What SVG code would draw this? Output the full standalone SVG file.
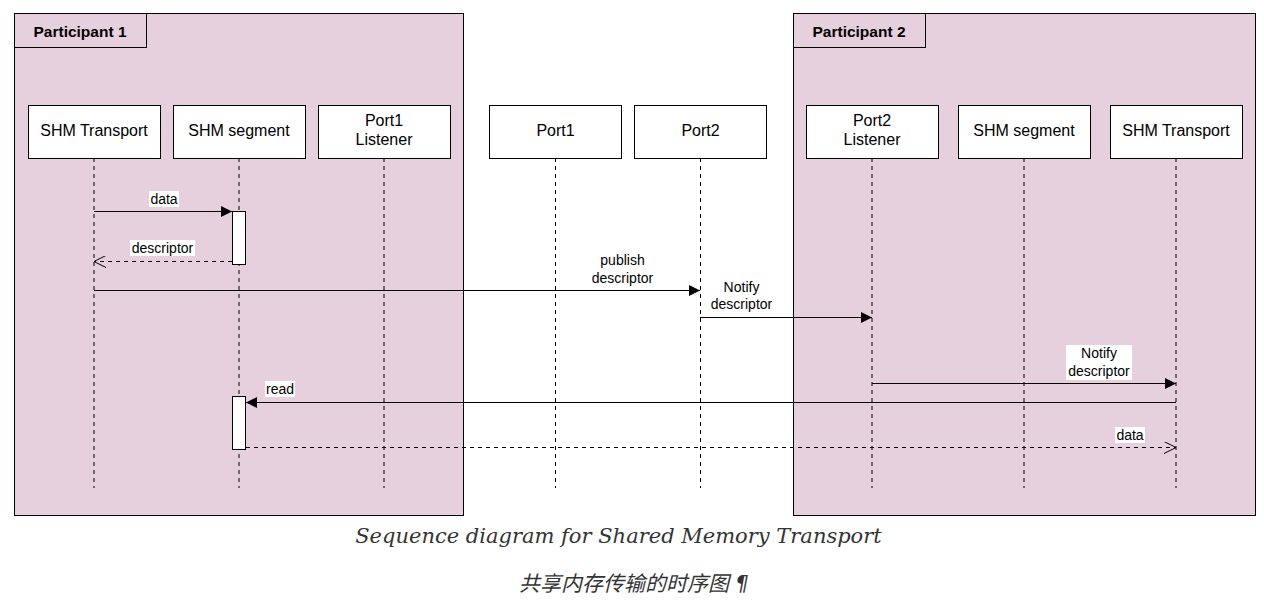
<svg xmlns="http://www.w3.org/2000/svg" width="1264" height="602" viewBox="0 0 1264 602">
<defs>
<style>
.frame{fill:#e6d0de;stroke:#000;stroke-width:1}
.tab{fill:#e6d0de;stroke:#000;stroke-width:1}
.box{fill:#fff;stroke:#000;stroke-width:1}
.t16{font-family:"Liberation Sans",Arial,sans-serif;font-size:16px;fill:#000;text-anchor:middle}
.tb{font-family:"Liberation Sans",Arial,sans-serif;font-size:15.5px;font-weight:bold;fill:#000;text-anchor:middle}
.t14{font-family:"Liberation Sans",Arial,sans-serif;font-size:14px;fill:#000;text-anchor:middle}
.life{stroke:#000;stroke-width:1;stroke-dasharray:4 4;fill:none}
.msg{stroke:#000;stroke-width:1;fill:none}
.ret{stroke:#000;stroke-width:1;stroke-dasharray:4 4;fill:none}
.act{fill:#fff;stroke:#000;stroke-width:1}
.lbg{fill:#fff}
.cap{font-family:"DejaVu Serif",serif;font-style:italic;font-size:21px;fill:#333;text-anchor:middle}
.cap2{font-family:"DejaVu Sans","Noto Sans CJK SC",sans-serif;font-style:italic;font-size:21px;fill:#333;text-anchor:middle}
</style>
<marker id="fill" viewBox="0 0 11 11" refX="11" refY="5.5" markerWidth="11" markerHeight="11" markerUnits="userSpaceOnUse" orient="auto">
<path d="M0,0 L11,5.5 L0,11 Z" fill="#000"/>
</marker>
<marker id="open" viewBox="0 0 12 12" refX="12" refY="6" markerWidth="12" markerHeight="12" markerUnits="userSpaceOnUse" orient="auto">
<path d="M0,0 L12,6 L0,12" fill="none" stroke="#000" stroke-width="1"/>
</marker>
</defs>
<rect width="1264" height="602" fill="#fff"/>

<g id="participant1">
<rect class="frame" x="14.5" y="13.5" width="449" height="502"/>
<rect class="tab" x="14.5" y="13.5" width="132" height="34"/>
<text class="tb" x="80" y="37">Participant 1</text>
</g>
<g id="participant2">
<rect class="frame" x="793.5" y="13.5" width="462" height="502"/>
<rect class="tab" x="793.5" y="13.5" width="132" height="34"/>
<text class="tb" x="859" y="37">Participant 2</text>
</g>

<g id="lifelines">
<line class="life" x1="94" y1="158" x2="94" y2="488"/>
<line class="life" x1="239" y1="158" x2="239" y2="488"/>
<line class="life" x1="384" y1="158" x2="384" y2="488"/>
<line class="life" x1="555.5" y1="158" x2="555.5" y2="488"/>
<line class="life" x1="700.5" y1="158" x2="700.5" y2="488"/>
<line class="life" x1="872" y1="158" x2="872" y2="488"/>
<line class="life" x1="1024" y1="158" x2="1024" y2="488"/>
<line class="life" x1="1176" y1="158" x2="1176" y2="488"/>
</g>

<g id="shm-transport-1"><rect class="box" x="28.5" y="105.5" width="132" height="53"/><text class="t16" x="94" y="136">SHM Transport</text></g>
<g id="shm-segment-1"><rect class="box" x="173.5" y="105.5" width="132" height="53"/><text class="t16" x="239" y="136">SHM segment</text></g>
<g id="port1-listener"><rect class="box" x="318.5" y="105.5" width="132" height="53"/><text class="t16" x="384" y="126">Port1</text><text class="t16" x="384" y="145">Listener</text></g>
<g id="port1"><rect class="box" x="489.5" y="105.5" width="132" height="53"/><text class="t16" x="555.5" y="136">Port1</text></g>
<g id="port2"><rect class="box" x="634.5" y="105.5" width="132" height="53"/><text class="t16" x="700.5" y="136">Port2</text></g>
<g id="port2-listener"><rect class="box" x="806.5" y="105.5" width="132" height="53"/><text class="t16" x="872" y="126">Port2</text><text class="t16" x="872" y="145">Listener</text></g>
<g id="shm-segment-2"><rect class="box" x="958.5" y="105.5" width="132" height="53"/><text class="t16" x="1024" y="136">SHM segment</text></g>
<g id="shm-transport-2"><rect class="box" x="1110.5" y="105.5" width="132" height="53"/><text class="t16" x="1176" y="136">SHM Transport</text></g>

<g id="activations">
<rect class="act" x="232.5" y="211.5" width="13" height="53"/>
<rect class="act" x="232.5" y="396.5" width="13" height="53"/>
</g>

<g id="connectors">
<line class="msg" x1="94" y1="211.5" x2="232" y2="211.5" marker-end="url(#fill)"/>
<rect class="lbg" x="149" y="191" width="30" height="16"/>
<text class="t14" x="164" y="204">data</text>

<line class="ret" x1="232" y1="261.5" x2="94" y2="261.5" marker-end="url(#open)"/>
<rect class="lbg" x="130" y="240" width="65" height="16"/>
<text class="t14" x="162.5" y="253">descriptor</text>

<line class="msg" x1="94" y1="290.5" x2="700" y2="290.5" marker-end="url(#fill)"/>
<text class="t14" x="622.5" y="265">publish</text>
<text class="t14" x="622.5" y="283">descriptor</text>

<line class="msg" x1="700" y1="317.5" x2="872" y2="317.5" marker-end="url(#fill)"/>
<text class="t14" x="741.5" y="292">Notify</text>
<text class="t14" x="741.5" y="309">descriptor</text>

<line class="msg" x1="872" y1="383.5" x2="1176" y2="383.5" marker-end="url(#fill)"/>
<rect class="lbg" x="1066" y="345" width="66" height="35"/>
<text class="t14" x="1099" y="358">Notify</text>
<text class="t14" x="1099" y="376">descriptor</text>

<line class="msg" x1="1176" y1="402.5" x2="246" y2="402.5" marker-end="url(#fill)"/>
<rect class="lbg" x="265" y="381" width="30" height="16"/>
<text class="t14" x="280" y="394">read</text>

<line class="ret" x1="246" y1="447.5" x2="1176" y2="447.5" marker-end="url(#open)"/>
<rect class="lbg" x="1115" y="427" width="30" height="16"/>
<text class="t14" x="1130" y="440">data</text>
</g>

<g id="caption">
<text class="cap" x="618.5" y="543">Sequence diagram for Shared Memory Transport</text>
<text class="cap2" x="634" y="591">共享内存传输的时序图 ¶</text>
</g>
</svg>
